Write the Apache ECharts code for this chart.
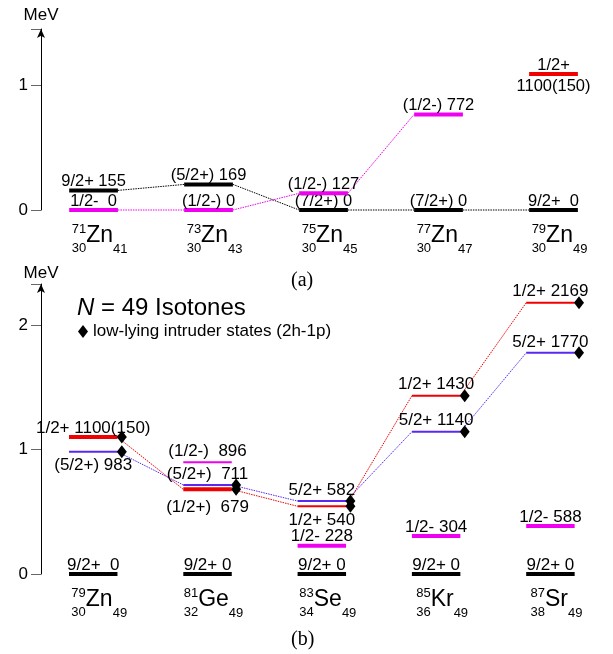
<!DOCTYPE html>
<html>
<head>
<meta charset="utf-8">
<script src="https://cdn.jsdelivr.net/npm/echarts@6/dist/echarts.min.js"></script>
<style>
  html, body { margin: 0; padding: 0; background: #fff; }
  #chart { width: 613px; height: 654px; }
</style>
</head>
<body>
<div id="chart"></div>
<script>
// ---- panel (a): odd Zn isotopes ----
const massA = [71, 73, 75, 77, 79];
const protA = [30, 30, 30, 30, 30];
const neutA = [41, 43, 45, 47, 49];
const symA = ['Zn', 'Zn', 'Zn', 'Zn', 'Zn'];
const aBlack = [0.157, 0.205, 0, 0, 0];
const aBlackTxt = ['9/2+ 155', '(5/2+) 169', '(7/2+) 0', '(7/2+) 0', '9/2+  0'];
const aMag = [0, 0, 0.134, 0.766, null];
const aMagTxt = ['1/2-  0', '(1/2-) 0', '(1/2-) 127', '(1/2-) 772', ''];
const aRed = [null, null, null, null, 1.09];
const aRedTxt = ['', '', '', '', '1/2+'];
const aRedTxtBelow = ['', '', '', '', '1100(150)'];

// ---- panel (b): N = 49 isotones ----
const massB = [79, 81, 83, 85, 87];
const protB = [30, 32, 34, 36, 38];
const neutB = [49, 49, 49, 49, 49];
const symB = ['Zn', 'Ge', 'Se', 'Kr', 'Sr'];
const bGround = [0, 0, 0, 0, 0];
const bGroundTxt = ['9/2+  0', '9/2+ 0', '9/2+ 0', '9/2+ 0', '9/2+ 0'];
const bRed = [1.10, 0.68, 0.544, 1.432, 2.179];
const bRedTxt = ['1/2+ 1100(150)', '', '', '1/2+ 1430', '1/2+ 2169'];
const bRedTxtBelow = ['', '(1/2+)  679', '1/2+ 540', '', ''];
const bBlue = [0.982, 0.715, 0.586, 1.143, 1.777];
const bBlueTxt = ['', '(5/2+)  711', '5/2+ 582', '5/2+ 1140', '5/2+ 1770'];
const bBlueTxtBelow = ['(5/2+) 983', '', '', '', ''];
const bMag = [null, 0.897, 0.227, 0.305, 0.386];
const bMagTxt = ['', '(1/2-)  896', '1/2- 228', '1/2- 304', '1/2- 588'];

const FONT = '"Liberation Sans", Arial, Helvetica, sans-serif';
const BLACK = '#000', MAG = '#f000f0', RED = '#f00000', BLUE = '#5a28f0';
const HW = 0.212; // half width of a level bar (x units)
const INTRUDER = 'low-lying intruder states (2h-1p)';

const measureCtx = document.createElement('canvas').getContext('2d');
function textW(t, fs) {
  measureCtx.font = fs + 'px ' + FONT;
  return measureCtx.measureText(String(t)).width;
}

function levelSeries(gi, values, color, thick, above, below, opt) {
  return {
    type: 'custom',
    xAxisIndex: gi,
    yAxisIndex: gi,
    z: 3,
    silent: true,
    data: values.map((v, i) => [i, v]).filter(d => d[1] !== null),
    renderItem: (params, api) => {
      const i = api.value(0);
      const v = api.value(1);
      const p1 = api.coord([i - HW, v]);
      const p2 = api.coord([i + HW, v]);
      const isThick = thick[i];
      const cx = (p1[0] + p2[0]) / 2;
      const kids = [{
        type: 'line',
        shape: { x1: p1[0], y1: p1[1], x2: p2[0], y2: p2[1] },
        style: { stroke: color, lineWidth: isThick ? 4 : 2 }
      }];
      if (above[i]) {
        kids.push({
          type: 'text',
          style: {
            text: above[i], x: cx, y: p1[1] + (isThick ? opt.upThick : opt.upThin),
            align: 'center', verticalAlign: 'middle',
            font: opt.fs + 'px ' + FONT, fill: '#000'
          }
        });
      }
      if (below && below[i]) {
        kids.push({
          type: 'text',
          style: {
            text: below[i], x: cx, y: p1[1] + (isThick ? opt.downThick : opt.downThin),
            align: 'center', verticalAlign: 'middle',
            font: opt.fs + 'px ' + FONT, fill: '#000'
          }
        });
      }
      return { type: 'group', children: kids };
    }
  };
}

function linkSeries(gi, values, color) {
  const pairs = [];
  for (let i = 0; i < values.length - 1; i++) {
    if (values[i] !== null && values[i + 1] !== null) pairs.push([i, values[i], values[i + 1]]);
  }
  return {
    type: 'custom',
    xAxisIndex: gi,
    yAxisIndex: gi,
    z: 2,
    silent: true,
    encode: { x: 0, y: [1, 2] },
    data: pairs,
    renderItem: (params, api) => {
      const i = api.value(0);
      const p1 = api.coord([i + HW, api.value(1)]);
      const p2 = api.coord([i + 1 - HW, api.value(2)]);
      return {
        type: 'line',
        shape: { x1: p1[0], y1: p1[1], x2: p2[0], y2: p2[1] },
        style: { stroke: color, lineWidth: 1, lineDash: [1.5, 1] }
      };
    }
  };
}

function nuclideSeries(gi, mass, prot, neut, sym) {
  return {
    type: 'custom',
    xAxisIndex: gi,
    yAxisIndex: gi,
    z: 3,
    silent: true,
    data: mass.map((m, i) => [i, 0]),
    renderItem: (params, api) => {
      const i = api.value(0);
      const p = api.coord([i, 0]);
      const preW = Math.max(textW(mass[i], 13), textW(prot[i], 13));
      const mainW = textW(sym[i], 23);
      const postW = textW(neut[i], 13);
      const left = p[0] + 6 - (preW + mainW + postW) / 2;
      const yc = p[1] + 26;
      const t = (text, x, y, fs, align) => ({
        type: 'text',
        style: { text: String(text), x: x, y: y, align: align, verticalAlign: 'middle', font: fs + 'px ' + FONT, fill: '#000' }
      });
      return {
        type: 'group',
        children: [
          t(mass[i], left + preW, yc - 7, 13, 'right'),
          t(prot[i], left + preW, yc + 12, 13, 'right'),
          t(sym[i], left + preW, yc, 23, 'left'),
          t(neut[i], left + preW + mainW, yc + 13, 13, 'left')
        ]
      };
    }
  };
}

const diamonds = [];
bRed.forEach((v, i) => diamonds.push([i + 0.25, v]));
bBlue.forEach((v, i) => diamonds.push([i + 0.25, v]));

const optA = { fs: 16.5, upThick: -8.5, upThin: -8.5, downThick: 13, downThin: 13 };
const optB = { fs: 17, upThick: -9, upThin: -11, downThick: 18, downThin: 14 };

function yAxisCfg(gi, max, gap) {
  return {
    type: 'value',
    gridIndex: gi,
    min: 0,
    max: max,
    interval: 1,
    name: 'MeV',
    nameLocation: 'end',
    nameGap: gap,
    nameTextStyle: { fontSize: 17, color: '#000', fontFamily: FONT, align: 'center', padding: 0 },
    axisLine: { show: true, onZero: false, lineStyle: { color: '#000', width: 1 }, symbol: ['none', 'arrow'], symbolSize: [6, 9] },
    axisTick: { show: true, inside: false, length: 10, lineStyle: { color: '#666', width: 1 } },
    axisLabel: {
      margin: 13, fontSize: 17, color: '#000', fontFamily: FONT,
      formatter: v => (Number.isInteger(v) ? String(v) : '')
    },
    splitLine: { show: false }
  };
}

const chart = echarts.init(document.getElementById('chart'), null, { renderer: 'canvas' });
chart.setOption({
  backgroundColor: '#fff',
  animation: false,
  title: [
    {
      text: '{it|N} = 49 Isotones',
      left: 77, top: 295, padding: 0,
      textStyle: {
        fontSize: 24, fontWeight: 'normal', color: '#000', fontFamily: FONT, lineHeight: 26,
        rich: { it: { fontStyle: 'italic', fontSize: 24, fontFamily: FONT, color: '#000', lineHeight: 26 } }
      }
    },
    { text: '(a)', left: 291, top: 271, padding: 0, textStyle: { fontSize: 20, fontWeight: 'normal', color: '#000', fontFamily: '"Liberation Serif", "DejaVu Serif", serif' } },
    { text: '(b)', left: 291, top: 630, padding: 0, textStyle: { fontSize: 20, fontWeight: 'normal', color: '#000', fontFamily: '"Liberation Serif", "DejaVu Serif", serif' } }
  ],
  legend: {
    data: [{ name: INTRUDER, icon: 'diamond', itemStyle: { color: '#000', opacity: 1 } }],
    left: 78, top: 323, padding: 0,
    itemWidth: 10, itemHeight: 13,
    selectedMode: false,
    textStyle: { fontSize: 17, color: '#000', fontFamily: FONT }
  },
  grid: [
    { left: 41, right: 2, top: 29, bottom: 444 },
    { left: 41, right: 2, top: 284, bottom: 80 }
  ],
  xAxis: [
    { type: 'value', gridIndex: 0, min: -0.457, max: 4.5, show: false },
    { type: 'value', gridIndex: 1, min: -0.457, max: 4.53, show: false }
  ],
  yAxis: [yAxisCfg(0, 1.45, 5), yAxisCfg(1, 2.33, 2)],
  series: [
    // panel (a)
    linkSeries(0, aBlack, BLACK),
    linkSeries(0, aMag, MAG),
    levelSeries(0, aBlack, BLACK, [1, 1, 1, 1, 1], aBlackTxt, null, optA),
    levelSeries(0, aMag, MAG, [1, 1, 1, 1, 1], aMagTxt, null, optA),
    levelSeries(0, aRed, RED, [1, 1, 1, 1, 1], aRedTxt, aRedTxtBelow, optA),
    nuclideSeries(0, massA, protA, neutA, symA),
    // panel (b)
    linkSeries(1, bRed, RED),
    linkSeries(1, bBlue, BLUE),
    levelSeries(1, bGround, BLACK, [1, 1, 1, 1, 1], bGroundTxt, null, optB),
    levelSeries(1, bMag, MAG, [0, 0, 1, 1, 1], bMagTxt, null, optB),
    levelSeries(1, bRed, RED, [1, 1, 0, 0, 0], bRedTxt, bRedTxtBelow, optB),
    levelSeries(1, bBlue, BLUE, [0, 0, 0, 0, 0], bBlueTxt, bBlueTxtBelow, optB),
    nuclideSeries(1, massB, protB, neutB, symB),
    {
      name: INTRUDER,
      type: 'scatter',
      xAxisIndex: 1,
      yAxisIndex: 1,
      z: 4,
      symbol: 'diamond',
      symbolSize: [10, 13],
      itemStyle: { color: '#000', opacity: 1 },
      silent: true,
      data: diamonds
    }
  ]
});
</script>
</body>
</html>
